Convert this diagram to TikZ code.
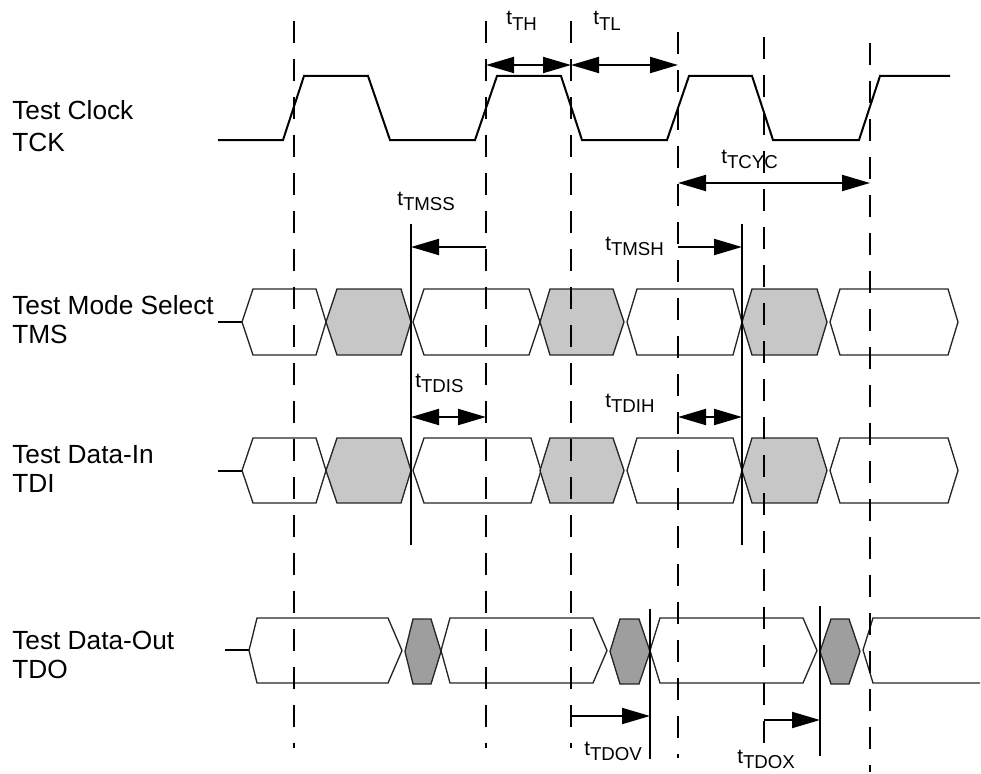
\documentclass[tikz,border=0pt]{standalone}
\usepackage{fontspec}
\setmainfont{Liberation Sans}
\usetikzlibrary{arrows.meta}
\newcommand{\hexg}[7]{%
  \draw[#1] (#2,{(#6+#7)/2}) -- (#3,#6) -- (#4,#6) -- (#5,{(#6+#7)/2}) -- (#4,#7) -- (#3,#7) -- cycle;}
\newcommand{\tlab}[1]{{\fontsize{15.5}{17}\selectfont t}\raisebox{-4pt}{#1}}
\begin{document}
\begin{tikzpicture}[x=0.75pt,y=-0.75pt,
  sig/.style={line width=1.5pt, line join=miter},
  dashline/.style={line width=2pt, dash pattern=on 16.5pt off 12pt},
  vline/.style={line width=1.5pt},
  busw/.style={line width=1pt, draw=black!85, fill=white},
  busg/.style={line width=1pt, draw=black!85, fill=black!22},
  busd/.style={line width=1pt, draw=black!85, fill=black!38},
  dim/.style={line width=1.5pt, {Triangle[length=21pt,width=12pt]}-{Triangle[length=21pt,width=12pt]}},
  dimr/.style={line width=1.5pt, -{Triangle[length=21pt,width=12pt]}},
  sigtxt/.style={anchor=base west, inner sep=0pt, font=\fontsize{19.7}{22}\selectfont},
  tt/.style={anchor=base west, inner sep=0pt, font=\fontsize{14}{16}\selectfont}
]
\useasboundingbox (0,0) rectangle (981,774);

% signal names
\node[sigtxt] (l1) at (12,119) {Test Clock};
\node[sigtxt] (l2) at (12,151) {TCK};
\node[sigtxt] (l3) at (12,314) {Test Mode Select};
\node[sigtxt] (l4) at (12,343) {TMS};
\node[sigtxt] (l5) at (12,463) {Test Data-In};
\node[sigtxt] (l6) at (12,492) {TDI};
\node[sigtxt] (l7) at (12,649) {Test Data-Out};
\node[sigtxt] (l8) at (12,678) {TDO};

% clock
\draw[sig] (218,140) -- (283,140) -- (304,76) -- (368,76) -- (390,140) -- (475,140)
  -- (497,76) -- (561,76) -- (582,140) -- (667,140) -- (689,76) -- (752,76)
  -- (773,140) -- (859,140) -- (880,76) -- (950,76);

% TMS bus
\draw[line width=1.5pt] (218,322) -- (242,322);
\hexg{busw}{242}{253}{316}{326}{289}{355}
\hexg{busg}{326}{337}{401}{411}{289}{355}
\hexg{busw}{413}{424}{529}{540}{289}{355}
\hexg{busg}{540}{550}{613}{624}{289}{355}
\hexg{busw}{627}{637}{733}{742}{289}{355}
\hexg{busg}{742}{752}{817}{827}{289}{355}
\hexg{busw}{830}{840}{948}{958}{289}{355}

% TDI bus
\draw[line width=1.5pt] (218,471) -- (242,471);
\hexg{busw}{242}{253}{316}{326}{438}{503}
\hexg{busg}{326}{337}{401}{411}{438}{503}
\hexg{busw}{413}{424}{531}{541}{438}{503}
\hexg{busg}{540}{550}{613}{624}{438}{503}
\hexg{busw}{627}{637}{733}{742}{438}{503}
\hexg{busg}{742}{752}{817}{827}{438}{503}
\hexg{busw}{830}{840}{948}{958}{438}{503}

% TDO bus
\draw[line width=1.5pt] (225,650) -- (249,650);
\hexg{busw}{249}{257}{388}{402}{618}{683}
\hexg{busd}{405}{413}{431}{441}{619}{684}
\hexg{busw}{441}{450}{593}{607}{618}{683}
\hexg{busd}{610}{620}{639}{650}{619}{684}
\hexg{busw}{650}{660}{803}{817}{618}{683}
\hexg{busd}{820}{831}{849}{860}{619}{684}
\draw[line width=1pt, draw=black!85] (980,618) -- (873,618) -- (863,650) -- (873,683) -- (980,683);

% dashed reference lines
\coordinate (d1t) at (294,21);  \coordinate (d1b) at (294,748);
\coordinate (d2t) at (486,21);  \coordinate (d2b) at (486,748);
\coordinate (d3t) at (571,21);  \coordinate (d3b) at (571,748);
\coordinate (d4t) at (678,32);  \coordinate (d4b) at (678,758);
\coordinate (d5t) at (764,37);  \coordinate (d5b) at (764,745);
\coordinate (d6t) at (870,43);  \coordinate (d6b) at (870,772);
\foreach \i in {1,...,6} {\draw[dashline] (d\i t) -- (d\i b);}

% solid timing lines
\coordinate (s1t) at (411,224); \coordinate (s1b) at (411,545);
\coordinate (s2t) at (742,224); \coordinate (s2b) at (742,545);
\coordinate (s3t) at (650,609); \coordinate (s3b) at (650,759);
\coordinate (s4t) at (820,606); \coordinate (s4b) at (820,756);
\foreach \i in {1,...,4} {\draw[vline] (s\i t) -- (s\i b);}

% dimension arrows
\coordinate (aTHa) at (486,65);  \coordinate (aTHb) at (571,65);
\coordinate (aTLb) at (678,65);
\draw[dim] (aTHa) -- (aTHb);
\draw[dim] (aTHb) -- (aTLb);
\coordinate (aCa) at (678,183); \coordinate (aCb) at (870,183);
\draw[dim] (aCa) -- (aCb);
\coordinate (aMSa) at (486,247); \coordinate (aMSb) at (411,247);
\draw[dimr] (aMSa) -- (aMSb);
\coordinate (aMHa) at (678,247); \coordinate (aMHb) at (742,247);
\draw[dimr] (aMHa) -- (aMHb);
\coordinate (aDSa) at (411,417); \coordinate (aDSb) at (486,417);
\draw[dim] (aDSa) -- (aDSb);
\coordinate (aDHa) at (678,417); \coordinate (aDHb) at (742,417);
\draw[dim] (aDHa) -- (aDHb);
\coordinate (aOVa) at (571,716); \coordinate (aOVb) at (650,716);
\draw[dimr] (aOVa) -- (aOVb);
\coordinate (aOXa) at (764,720); \coordinate (aOXb) at (820,720);
\draw[dimr] (aOXa) -- (aOXb);

% timing labels
\node[tt] (tTH)   at (506,25)  {\tlab{TH}};
\node[tt] (tTL)   at (593,25)  {\tlab{TL}};
\node[tt] (tTCYC) at (721,163) {\tlab{TCYC}};
\node[tt] (tTMSS) at (397,205) {\tlab{TMSS}};
\node[tt] (tTMSH) at (605,250) {\tlab{TMSH}};
\node[tt] (tTDIS) at (415,387) {\tlab{TDIS}};
\node[tt] (tTDIH) at (605,407) {\tlab{TDIH}};
\node[tt] (tTDOV) at (584,755) {\tlab{TDOV}};
\node[tt] (tTDOX) at (737,763) {\tlab{TDOX}};
\end{tikzpicture}
\end{document}
